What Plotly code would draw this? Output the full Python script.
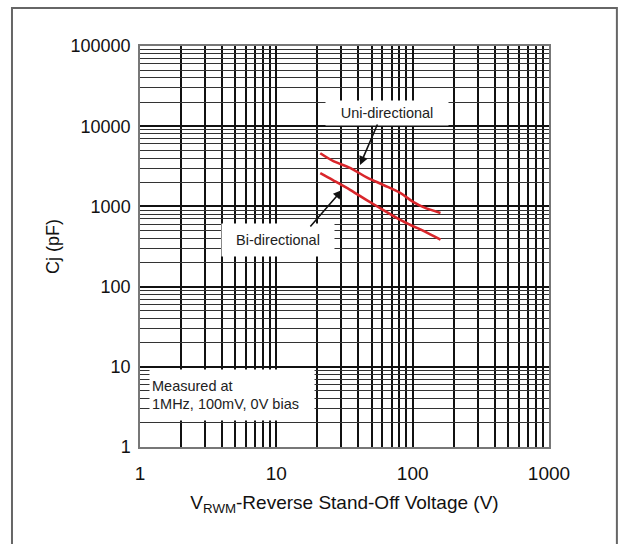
import plotly.graph_objects as go

# ---- data ----
voltage = [21, 26, 35, 46, 61, 81, 100, 120, 160]
cj_uni = [4600, 3700, 3000, 2300, 1850, 1470, 1150, 980, 830]
cj_bi = [2600, 2130, 1600, 1200, 900, 680, 570, 495, 385]

x_ticks = [1, 10, 100, 1000]
y_ticks = [1, 10, 100, 1000, 10000, 100000]

RED = "#d9262b"
FONT = "Liberation Sans, Arial, sans-serif"

fig = go.Figure()
fig.add_trace(go.Scatter(x=voltage, y=cj_uni, mode="lines",
                         line=dict(color=RED, width=2.6, shape="spline"),
                         name="Uni-directional", showlegend=False))
fig.add_trace(go.Scatter(x=voltage, y=cj_bi, mode="lines",
                         line=dict(color=RED, width=2.6, shape="spline"),
                         name="Bi-directional", showlegend=False))

annotations = [
    # label boxes (white background masks the grid)
    dict(x=1.812, y=4.16, xref="x", yref="y", text="Uni-directional",
         showarrow=False, bgcolor="white", width=120, height=22,
         font=dict(size=14.5, color="#222", family=FONT)),
    dict(x=1.012, y=2.58, xref="x", yref="y", text="Bi-directional",
         showarrow=False, bgcolor="white", width=110, height=30,
         font=dict(size=14.5, color="#222", family=FONT)),
    dict(x=0.672, y=0.648, xref="x", yref="y",
         text="Measured at<br>1MHz, 100mV, 0V bias",
         showarrow=False, bgcolor="white", width=160, height=46, align="left",
         borderpad=2,
         font=dict(size=14.5, color="#222", family=FONT)),
    # arrows
    dict(x=1.614, y=3.516, xref="x", yref="y", ax=1.746, ay=4.04,
         axref="x", ayref="y", text="", showarrow=True, arrowhead=2,
         arrowsize=1.1, arrowwidth=1.6, arrowcolor="#111"),
    dict(x=1.482, y=3.204, xref="x", yref="y", ax=1.240, ay=2.731,
         axref="x", ayref="y", text="", showarrow=True, arrowhead=2,
         arrowsize=1.1, arrowwidth=1.6, arrowcolor="#111"),
]

fig.update_layout(
    width=625, height=544,
    margin=dict(l=140, r=76, t=46, b=97),
    paper_bgcolor="white", plot_bgcolor="white",
    font=dict(family=FONT, size=18, color="#111"),
    annotations=annotations,
    shapes=[
        dict(type="rect", xref="paper", yref="paper",
             x0=-0.313, x1=1.166, y0=-0.30, y1=1.095,
             line=dict(color="#666", width=2), fillcolor="rgba(0,0,0,0)",
             layer="below"),
    ],
)

fig.update_xaxes(
    type="log", range=[0, 3],
    tickvals=x_ticks, ticktext=[str(v) for v in x_ticks],
    ticks="", ticklabelstandoff=8,
    showline=True, mirror=True, linecolor="#777", linewidth=1.5,
    showgrid=True, gridcolor="#111", gridwidth=1.8,
    minor=dict(dtick="D1", showgrid=True, gridcolor="#111", gridwidth=1.8, ticks=""),
    tickfont=dict(size=19, family=FONT, color="#111"),
    title=dict(text="V<sub>RWM</sub>-Reverse Stand-Off Voltage (V)",
               font=dict(size=19, family=FONT, color="#111"), standoff=13),
    zeroline=False,
)
fig.update_yaxes(
    type="log", range=[0, 5],
    tickvals=y_ticks, ticktext=[str(v) for v in y_ticks],
    ticks="", ticklabelstandoff=4,
    showline=True, mirror=True, linecolor="#777", linewidth=1.5,
    showgrid=True, gridcolor="#111", gridwidth=1.6,
    minor=dict(dtick="D1", showgrid=True, gridcolor="#333", gridwidth=1.4, ticks=""),
    tickfont=dict(size=18, family=FONT, color="#111"),
    title=dict(text="Cj (pF)", font=dict(size=18, family=FONT, color="#111"),
               standoff=6),
    zeroline=False,
)

fig.write_html("out.html")
